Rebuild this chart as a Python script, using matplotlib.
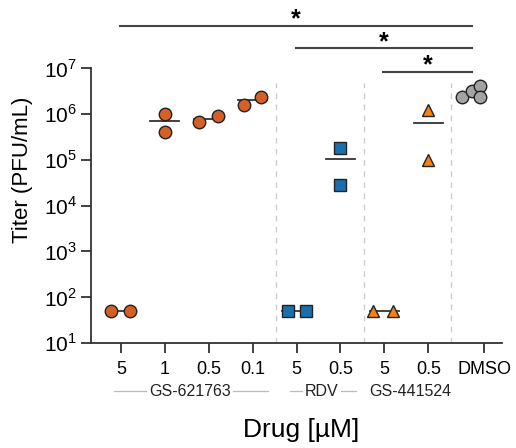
import numpy as np
import matplotlib
matplotlib.use("Agg")
import matplotlib.pyplot as plt

plt.rcParams['font.family'] = ['Liberation Sans', 'DejaVu Sans']
plt.rcParams['mathtext.fontset'] = 'custom'
plt.rcParams['mathtext.rm'] = 'Liberation Sans'

# data (PFU/mL)
tick_labels = ['5', '1', '0.5', '0.1', '5', '0.5', '5', '0.5', 'DMSO']
groups = ['GS-621763', 'RDV', 'GS-441524']
group_members = [[0, 1, 2, 3], [4, 5], [6, 7]]
titers = [
    [50, 50],
    [1.0e6, 4.0e5],
    [6.7e5, 9.0e5],
    [1.6e6, 2.4e6],
    [50, 50],
    [1.8e5, 2.8e4],
    [50, 50],
    [1.2e6, 1.0e5],
    [2.3e6, 3.2e6, 4.1e6, 2.3e6],
]
# x jitter so overlapping points sit side by side
jitter = [
    [-0.23, 0.2],
    [0, 0],
    [-0.23, 0.2],
    [-0.2, 0.2],
    [-0.2, 0.22],
    [0, 0],
    [-0.25, 0.2],
    [0, 0],
    [-0.5, -0.28, -0.09, -0.09],
]
markers = ['o'] * 4 + ['s'] * 2 + ['^'] * 2 + ['o']
colors = ['#d45f27'] * 4 + ['#1b6fae'] * 2 + ['#f5820d'] * 2 + ['#a3a3a3']
# significance brackets: (start index, end index)
brackets = [(0, 8), (4, 8), (6, 8)]

xpos = np.array([1, 2, 3, 4, 5, 6, 7, 8, 9.27])

fig = plt.figure(figsize=(5.16, 4.48), dpi=100)
ax = fig.add_axes([0.1764, 0.2344, 0.7965, 0.7433])

for i in range(len(titers)):
    xs = xpos[i] + np.array(jitter[i])
    ys = np.array(titers[i])
    if i < 8:
        m = ys.mean()
        ax.plot([xpos[i] - 0.33, xpos[i] + 0.33], [m, m], color='#333333', lw=1.3, zorder=2)
    ax.plot(xs, ys, linestyle='none', marker=markers[i], markersize=9 if markers[i] != 's' else 8.5,
            markerfacecolor=colors[i], markeredgecolor='#222222', markeredgewidth=1.0, zorder=3)

# dashed separators
for xv in [4.53, 6.53, 8.52]:
    ax.plot([xv, xv], [10, 10 ** 6.68], color='#cccccc', lw=1.0, ls=(0, (4, 4)), zorder=1)

ax.set_yscale('log')
ax.set_ylim(10, 10 ** 8.27)
ax.set_xlim(0.317, 9.68)
ax.spines['top'].set_visible(False)
ax.spines['right'].set_visible(False)
ax.spines['left'].set_bounds(10, 1e7)
for s in ['left', 'bottom']:
    ax.spines[s].set_linewidth(1.3)
    ax.spines[s].set_color('#333333')

yt = [10 ** k for k in range(1, 8)]
ax.set_yticks(yt)
ax.set_yticklabels([r'$10^{%d}$' % k for k in range(1, 8)])
ax.yaxis.set_minor_locator(matplotlib.ticker.NullLocator())
ax.set_xticks(xpos)
ax.set_xticklabels(tick_labels)
ax.tick_params(axis='both', length=7, width=1.3, color='#333333')
ax.tick_params(axis='x', labelsize=13, pad=6)
ax.tick_params(axis='y', labelsize=15, pad=3)

ax.set_ylabel('Titer (PFU/mL)', fontsize=16)
ax.yaxis.set_label_coords(-0.142, 0.52)
ax.text(5.1, -0.262, 'Drug [µM]', transform=ax.get_xaxis_transform(), fontsize=19,
        ha='center', va='center')

# group labels below tick labels
trans = ax.get_xaxis_transform()
for g, members in zip(groups, group_members):
    x0 = xpos[members[0]] - 0.15
    x1 = xpos[members[-1]] + 0.35
    ax.plot([x0, x1], [-0.145, -0.145], transform=trans, color='#bbbbbb', lw=0.9, clip_on=False)
    ax.text((xpos[members[0]] + xpos[members[-1]]) / 2 + 0.08, -0.145, g, transform=trans,
            fontsize=11.5, ha='center', va='center', color='#222222',
            bbox=dict(facecolor='white', edgecolor='none', pad=1.5))

# significance brackets
bracket_y = [10 ** 7.92, 10 ** 7.43, 10 ** 6.92]
for (a, b), yb in zip(brackets, bracket_y):
    xa = xpos[a] - 0.02
    xb = xpos[b] - 0.28
    ax.plot([xa, xb], [yb, yb], color='#444444', lw=1.5, clip_on=False)
    ax.text((xa + xb) / 2, yb / 10 ** 0.12, '*', fontsize=18, fontweight='bold', ha='center', va='bottom')

fig.savefig('out.png', dpi=100)
